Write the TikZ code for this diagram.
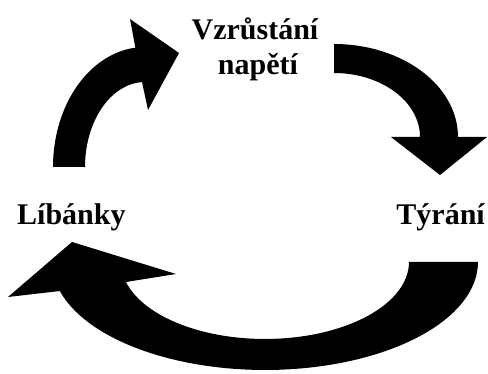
\documentclass[tikz,border=0pt]{standalone}
\usepackage{fontspec}
\setmainfont{Liberation Serif}
\newcommand{\lblfont}{\fontsize{30}{35}\selectfont\bfseries}
\tikzset{
  blockarrow/.style={fill=black, draw=none},
  lbl/.style={font=\lblfont, inner sep=0pt, text=black}
}
\begin{document}
\begin{tikzpicture}[x=1pt, y=-1pt]
\useasboundingbox (0,0) rectangle (488,374);
% labels
\node[lbl, anchor=base] (vzr) at (255,40) {Vzrůstání};
\node[lbl, anchor=base] (nap) at (258,75) {napětí};
\node[lbl, anchor=base west] (lib) at (17,225) {Líbánky};
\node[lbl, anchor=base east] (tyr) at (485,225) {Týrání};
% named points of the arrows
\coordinate (a1w1) at (130,19);
\coordinate (a1tip) at (179,53);
\coordinate (a1w2) at (148,110);
\coordinate (a2w1) at (487,137);
\coordinate (a2tip) at (440,175);
\coordinate (a2w2) at (391,137);
\coordinate (a3o) at (60,291);
\coordinate (a3tip) at (8,297);
\coordinate (a3w1) at (72,242);
\coordinate (a3w2) at (176,274);
\coordinate (a3i) at (126,282);
% arrow Libanky -> Vzrustani napeti
\fill[blockarrow] (53,167)
  -- plot[domain=180:264, samples=40] ({145+92*cos(\x)}, {167+120*sin(\x)})
  -- (a1w1) -- (a1tip) -- (a1w2) -- (142,82)
  -- plot[domain=267:180, samples=40] ({145+60*cos(\x)}, {167+85*sin(\x)})
  -- cycle;
% arrow Vzrustani napeti -> Tyrani
\fill[blockarrow] (334,44)
  -- plot[domain=270:360, samples=40] ({334+124*cos(\x)}, {137+93*sin(\x)})
  -- (a2w1) -- (a2tip) -- (a2w2) -- (420,137)
  -- plot[domain=360:270, samples=40] ({334+86*cos(\x)}, {137+64*sin(\x)})
  -- cycle;
% arrow Tyrani -> Libanky
\fill[blockarrow] (478,262)
  -- plot[domain=0:164.4, samples=60] ({265+213*cos(\x)}, {262+108*sin(\x)})
  -- (a3o) -- (a3tip) -- (a3w1) -- (a3w2) -- (a3i)
  -- plot[domain=165:0, samples=60] ({265+144*cos(\x)}, {262+77*sin(\x)})
  -- cycle;
\end{tikzpicture}
\end{document}
